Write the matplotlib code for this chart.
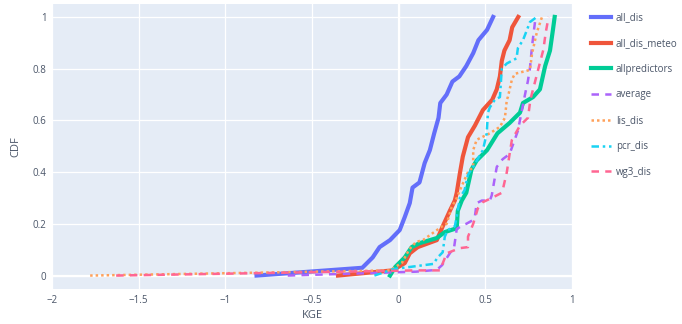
import matplotlib.pyplot as plt

# KGE scores per model, with their CDF level (sorted, read as polyline vertices)
all_dis_kge = [-0.82, -0.21, -0.15, -0.11, -0.05, 0.006, 0.035, 0.064, 0.08, 0.12, 0.15, 0.18,
               0.205, 0.23, 0.24, 0.277, 0.31, 0.35, 0.39, 0.43, 0.46, 0.51, 0.545]
all_dis_cdf = [0.0, 0.03, 0.07, 0.11, 0.137, 0.176, 0.226, 0.28, 0.34, 0.36, 0.435, 0.485,
               0.55, 0.61, 0.667, 0.70, 0.75, 0.77, 0.81, 0.86, 0.91, 0.95, 1.0]

meteo_kge = [-0.35, -0.035, 0.035, 0.064, 0.11, 0.22, 0.254, 0.295, 0.324, 0.335, 0.353, 0.37,
             0.40, 0.44, 0.486, 0.54, 0.566, 0.584, 0.595, 0.61, 0.64, 0.655, 0.69]
meteo_cdf = [0.0, 0.02, 0.048, 0.086, 0.11, 0.137, 0.19, 0.25, 0.29, 0.32, 0.395, 0.46,
             0.535, 0.58, 0.64, 0.68, 0.72, 0.77, 0.83, 0.87, 0.91, 0.96, 1.0]

allpred_kge = [-0.05, -0.02, 0.035, 0.075, 0.12, 0.22, 0.266, 0.335, 0.341, 0.364, 0.39, 0.42,
               0.45, 0.51, 0.57, 0.64, 0.70, 0.717, 0.775, 0.815, 0.845, 0.873, 0.89, 0.90]
allpred_cdf = [0.0, 0.033, 0.07, 0.11, 0.125, 0.145, 0.168, 0.183, 0.25, 0.29, 0.32, 0.41,
               0.445, 0.485, 0.55, 0.59, 0.63, 0.667, 0.69, 0.72, 0.81, 0.87, 0.95, 1.0]

average_kge = [-0.64, 0.10, 0.22, 0.25, 0.295, 0.32, 0.335, 0.37, 0.39, 0.43, 0.44, 0.45, 0.48,
               0.526, 0.537, 0.55, 0.566, 0.60, 0.64, 0.688, 0.717, 0.735, 0.745, 0.757, 0.77, 0.79]
average_cdf = [0.0, 0.015, 0.022, 0.04, 0.086, 0.11, 0.18, 0.195, 0.2, 0.215, 0.23, 0.28, 0.29,
               0.29, 0.31, 0.36, 0.42, 0.45, 0.47, 0.56, 0.66, 0.72, 0.75, 0.80, 0.89, 1.0]

lis_kge = [-1.78, -0.05, 0.02, 0.06, 0.10, 0.14, 0.25, 0.277, 0.306, 0.335, 0.353, 0.40, 0.43,
           0.43, 0.45, 0.526, 0.584, 0.613, 0.624, 0.63, 0.653, 0.67, 0.757, 0.77, 0.797, 0.827]
lis_cdf = [0.0, 0.02, 0.05, 0.10, 0.13, 0.137, 0.19, 0.2, 0.265, 0.30, 0.33, 0.40, 0.42,
           0.485, 0.525, 0.55, 0.575, 0.61, 0.68, 0.69, 0.757, 0.78, 0.795, 0.86, 0.94, 1.0]

pcr_kge = [-0.14, -0.03, 0.20, 0.225, 0.254, 0.266, 0.283, 0.324, 0.341, 0.353, 0.38, 0.40, 0.43,
           0.486, 0.508, 0.515, 0.526, 0.555, 0.584, 0.595, 0.624, 0.68, 0.688, 0.717, 0.746,
           0.757, 0.797]
pcr_cdf = [0.0, 0.025, 0.045, 0.07, 0.09, 0.15, 0.176, 0.19, 0.25, 0.30, 0.33, 0.39, 0.42,
           0.485, 0.55, 0.63, 0.65, 0.68, 0.69, 0.80, 0.82, 0.84, 0.88, 0.91, 0.96, 0.98, 1.0]

wg3_kge = [-1.63, -0.05, 0.10, 0.24, 0.25, 0.277, 0.353, 0.40, 0.40, 0.43, 0.457, 0.486, 0.537,
           0.595, 0.60, 0.624, 0.64, 0.653, 0.70, 0.746, 0.76, 0.785, 0.81, 0.835, 0.848, 0.865]
wg3_cdf = [0.0, 0.018, 0.02, 0.02, 0.04, 0.086, 0.106, 0.11, 0.15, 0.2, 0.26, 0.284, 0.30,
           0.32, 0.33, 0.40, 0.47, 0.524, 0.58, 0.61, 0.68, 0.745, 0.81, 0.874, 0.938, 1.0]

names = ['all_dis', 'all_dis_meteo', 'allpredictors', 'average', 'lis_dis', 'pcr_dis', 'wg3_dis']
series = [(all_dis_kge, all_dis_cdf), (meteo_kge, meteo_cdf), (allpred_kge, allpred_cdf),
          (average_kge, average_cdf), (lis_kge, lis_cdf), (pcr_kge, pcr_cdf), (wg3_kge, wg3_cdf)]

colors = ['#636EFA', '#EF553B', '#00CC96', '#AB63FA', '#FFA15A', '#19D3F3', '#FF6692']
widths = [3.0, 3.0, 3.0, 1.8, 1.8, 1.8, 1.8]
dashes = [None, None, None, (3, 2.5), (1, 1.2), (3, 1.5, 1, 1.5), (3, 2.5)]

plt.rcParams['font.family'] = ['Open Sans', 'DejaVu Sans']
text_col = '#4a5568'

fig = plt.figure(figsize=(6.82, 3.24), dpi=100)
ax = fig.add_axes([52 / 682, 35 / 324, 520 / 682, 285 / 324])
ax.set_facecolor('#E5ECF6')

for (xs, ys), name, c, w, d in zip(series, names, colors, widths, dashes):
    ln, = ax.plot(xs, ys, color=c, lw=w, label=name, solid_joinstyle='round', zorder=3)
    if d is not None:
        ln.set_dashes(d)

ax.set_xlim(-2, 1)
ax.set_ylim(-0.052, 1.05)
ax.set_xticks([-2, -1.5, -1, -0.5, 0, 0.5, 1])
ax.set_xticklabels(['\u22122', '\u22121.5', '\u22121', '\u22120.5', '0', '0.5', '1'])
ax.set_yticks([0, 0.2, 0.4, 0.6, 0.8, 1])
ax.set_yticklabels(['0', '0.2', '0.4', '0.6', '0.8', '1'])
ax.grid(color='white', lw=0.9)
ax.axvline(0, color='white', lw=1.6, zorder=1)
ax.axhline(0, color='white', lw=1.6, zorder=1)
ax.set_axisbelow(True)
for s in ax.spines.values():
    s.set_visible(False)
ax.tick_params(length=0, labelsize=7, labelcolor=text_col, pad=4)
ax.set_xlabel('KGE', fontsize=8, color=text_col, labelpad=3)
ax.set_ylabel('CDF', fontsize=8, color=text_col, labelpad=8)

leg = ax.legend(loc='upper left', bbox_to_anchor=(1.03, 0.985), frameon=False,
                fontsize=7, labelspacing=1.52, handlelength=2.0, handletextpad=0.5,
                borderaxespad=0)
for t in leg.get_texts():
    t.set_color(text_col)

fig.savefig('out.png', dpi=100)
